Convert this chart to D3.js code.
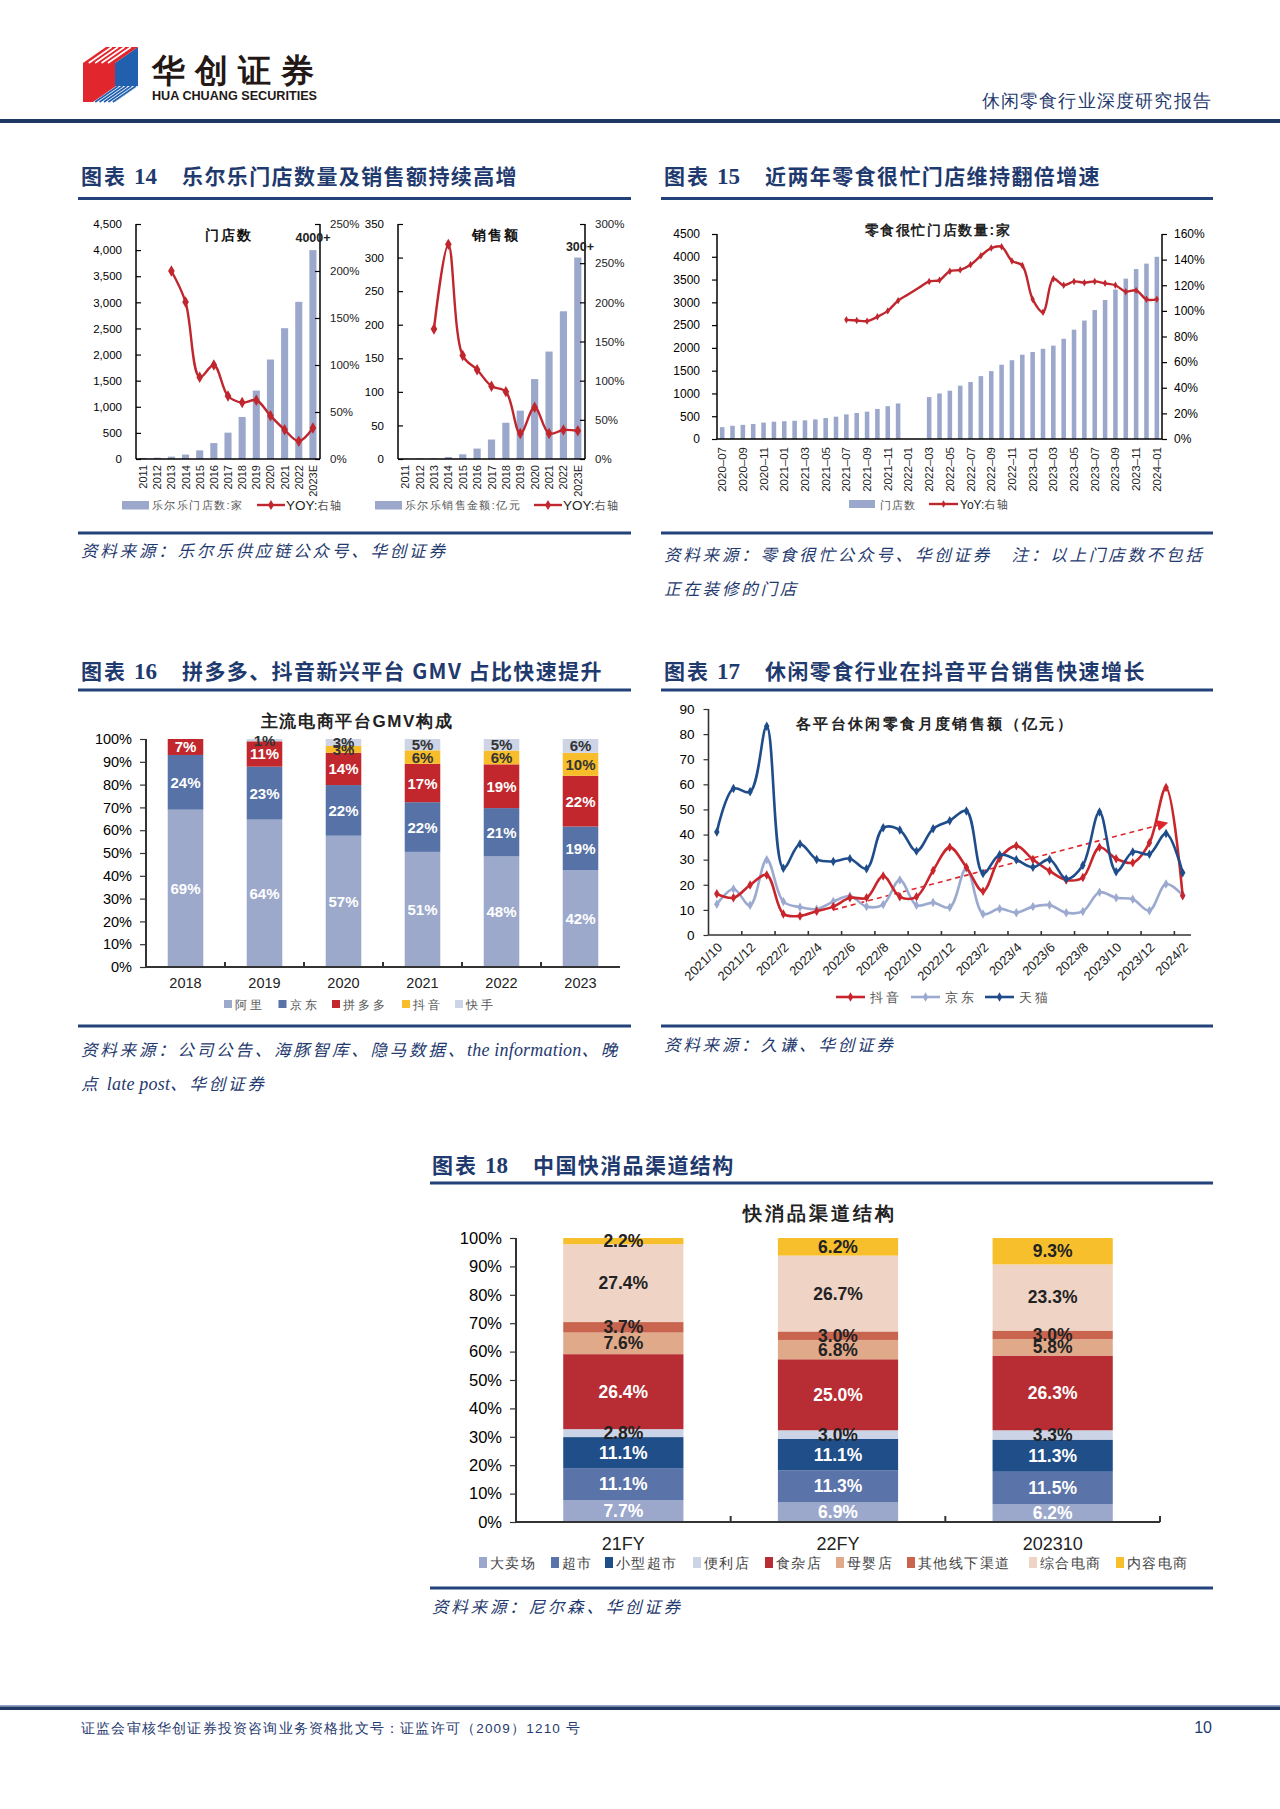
<!DOCTYPE html>
<html><head><meta charset="utf-8">
<script src="https://cdn.jsdelivr.net/npm/d3@7"></script>
<style>
body{margin:0;background:#fff;}
svg{display:block;}
text{font-family:"Liberation Sans",Arial,sans-serif;}
</style></head><body>
<svg id="page" width="1280" height="1809"></svg>
<script>
// ---------------- DATA ----------------
// Chart 14
const lelYears = ["2011","2012","2013","2014","2015","2016","2017","2018","2019","2020","2021","2022","2023E"];
const lelStores = [20,25,45,85,165,305,505,805,1310,1905,2505,3010,4000];
const lelStoresYoY = [null,null,2.00,1.67,0.87,1.00,0.67,0.60,0.625,0.46,0.31,0.19,0.33];
const lelSales = [0.5,1,1,3,7,15.5,29,54,72,119,160,220,300];
const lelSalesYoY = [null,null,1.66,2.74,1.32,1.14,0.93,0.86,0.325,0.66,0.325,0.37,0.36];
// Chart 15
const zsMonths = ["2020-07","2020-08","2020-09","2020-10","2020-11","2020-12",
 "2021-01","2021-02","2021-03","2021-04","2021-05","2021-06","2021-07","2021-08","2021-09","2021-10","2021-11","2021-12",
 "2022-01","2022-02","2022-03","2022-04","2022-05","2022-06","2022-07","2022-08","2022-09","2022-10","2022-11","2022-12",
 "2023-01","2023-02","2023-03","2023-04","2023-05","2023-06","2023-07","2023-08","2023-09","2023-10","2023-11","2023-12",
 "2024-01"];
const zsStores = [260,290,310,330,360,380,
 390,400,410,430,460,490,540,570,600,660,720,780,
 null,null,920,1000,1060,1170,1250,1380,1490,1630,1730,1850,
 1910,1980,2050,2200,2400,2600,2830,3050,3280,3520,3730,3850,
 4000];
const zsYoY = [null,null,null,null,null,null,
 null,null,null,null,null,null,0.93,0.925,0.92,0.954,1.00,1.08,
 1.13,1.18,1.23,1.24,1.31,1.32,1.36,1.43,1.49,1.50,1.39,1.355,
 1.09,0.99,1.25,1.20,1.23,1.22,1.23,1.215,1.20,1.15,1.16,1.09,
 1.09];
// Chart 16
const gmvYears = ["2018","2019","2020","2021","2022","2023"];
const gmvAli = [69,64,57,51,48,42];
const gmvJD = [24,23,22,22,21,19];
const gmvPDD = [7,11,14,17,19,22];
const gmvDouyin = [0,0,3,6,6,10];
const gmvKuaishou = [0,1,3,5,5,6];
const gmvNames = ["阿里","京东","拼多多","抖音","快手"];
// Chart 17
const snackMonths = ["2021/10","2021/11","2021/12","2022/1","2022/2","2022/3","2022/4","2022/5","2022/6","2022/7","2022/8","2022/9","2022/10","2022/11","2022/12",
 "2023/1","2023/2","2023/3","2023/4","2023/5","2023/6","2023/7","2023/8","2023/9","2023/10","2023/11","2023/12","2024/1","2024/2"];
const snackDouyin = [16.4,14.8,19.9,23.9,8.4,7.6,9.5,11.3,14.8,14.8,23.5,15.2,15.2,25.7,34.9,27,17.4,30.6,35.5,30.1,25.5,21.9,22.9,34.9,30.4,28.8,36.7,58.7,15.6];
const snackJD = [12.2,18.3,11.8,30,13.3,11.1,10.3,13.3,15.5,11.3,12.1,21.9,11.8,12.9,11,26.6,8.4,10.5,8.9,11.3,11.9,8.9,9.4,17,14.8,14.2,9.7,20.3,15.9];
const snackTmall = [41,58.3,57,83.1,26.6,36.2,30.1,29.3,30.4,26.4,42.7,41.8,33.4,42.3,45.5,49.4,24.5,32,30,27,30.1,22.3,27.8,49,25.2,33.1,32.2,40.4,24.8];
const snackTrend = [["2022/5",10],["2024/1",44.5]];
// Chart 18
const fmcgPeriods = ["21FY","22FY","202310"];
const chHypermarket = [7.7,6.9,6.2];
const chSupermarket = [11.1,11.3,11.5];
const chMiniMarket = [11.1,11.1,11.3];
const chConvenience = [2.8,3.0,3.3];
const chGrocery = [26.4,25.0,26.3];
const chMaternity = [7.6,6.8,5.8];
const chOtherOffline = [3.7,3.0,3.0];
const chGeneralEcom = [27.4,26.7,23.3];
const chContentEcom = [2.2,6.2,9.3];
const channelNames = ["大卖场","超市","小型超市","便利店","食杂店","母婴店","其他线下渠道","综合电商","内容电商"];

// ---------------- STYLE ----------------
const CJK = '"Noto Sans CJK SC","Noto Sans CJK JP",sans-serif';
const NARROW = '"Liberation Sans Narrow","Arial Narrow","Liberation Sans",sans-serif';
const NAVY = "#1F3A6E";
const BAR = "#9BA8CC";
const RED = "#C0262D";
const svg = d3.select("#page");

// ---------------- HEADER / FOOTER ----------------
(function header(){
  const g = svg.append("g");
  g.append("polygon").attr("points","83,63 115,63 115,102 83,102").attr("fill","#E1262D");
  g.append("polygon").attr("points","115,63 138,47 138,86 115,102").attr("fill","#2160AE");
  g.append("polygon").attr("points","83,63 115,63 138,47 106,47").attr("fill","#E1262D");
  [0.18,0.38,0.58,0.78].forEach(s=>{
    g.append("line").attr("x1",83+32*s).attr("y1",63).attr("x2",106+32*s).attr("y2",47).attr("stroke","#fff").attr("stroke-width",1.6);
  });
  g.append("polygon").attr("points","93,102 115,102 138,86 116,86").attr("fill","#fff");
  [0.1,0.3,0.5,0.7,0.9].forEach(s=>{
    g.append("line").attr("x1",93+22*s).attr("y1",102).attr("x2",116+22*s).attr("y2",86).attr("stroke","#2160AE").attr("stroke-width",1.6);
  });
  g.append("text").attr("x",152).attr("y",82).attr("font-family",CJK).attr("font-weight",900)
    .attr("font-size",33).attr("letter-spacing",10).attr("fill","#231815").text("华创证券");
  g.append("text").attr("x",152).attr("y",100).attr("font-weight","bold").attr("font-size",12.5)
    .attr("textLength",165).attr("lengthAdjust","spacingAndGlyphs").attr("fill","#231815").text("HUA CHUANG SECURITIES");
  g.append("text").attr("x",1212).attr("y",107).attr("text-anchor","end").attr("font-family",CJK)
    .attr("font-size",18).attr("letter-spacing",1.2).attr("fill",NAVY).text("休闲零食行业深度研究报告");
  g.append("rect").attr("x",0).attr("y",119).attr("width",1280).attr("height",4).attr("fill","#203864");
  g.append("rect").attr("x",0).attr("y",1705).attr("width",1280).attr("height",1.5).attr("fill","#8EA2C6");
  g.append("rect").attr("x",0).attr("y",1706.5).attr("width",1280).attr("height",3.5).attr("fill","#203864");
  g.append("text").attr("x",81).attr("y",1733).attr("font-family",CJK).attr("font-size",13.5).attr("letter-spacing",1.2)
    .attr("fill",NAVY).text("证监会审核华创证券投资咨询业务资格批文号：证监许可（2009）1210 号");
  g.append("text").attr("x",1212).attr("y",1733).attr("text-anchor","end").attr("font-family","Liberation Serif")
    .attr("font-size",16).attr("fill",NAVY).text("10");
})();

function section(x, y, num, title, lx1, lx2, ly, srcLines, sly, srcY){
  const t = svg.append("text").attr("x",x).attr("y",y).attr("fill",NAVY);
  t.append("tspan").attr("font-family",CJK).attr("font-weight",700).attr("font-size",21).attr("letter-spacing",2).text("图表");
  t.append("tspan").attr("x",x+53).attr("font-family","Liberation Serif").attr("font-weight","bold").attr("font-size",23).text(num);
  t.append("tspan").attr("x",x+101).attr("font-family",CJK).attr("font-weight",700).attr("font-size",21).attr("letter-spacing",1.4).text(title);
  svg.append("rect").attr("x",lx1).attr("y",ly-1.5).attr("width",lx2-lx1).attr("height",3).attr("fill","#23427A");
  svg.append("rect").attr("x",lx1).attr("y",sly-1.5).attr("width",lx2-lx1).attr("height",3).attr("fill","#23427A");
  srcLines.forEach((ln,i)=>{
    const st = svg.append("text").attr("x",x).attr("y",srcY+i*34).attr("fill",NAVY).attr("xml:space","preserve");
    ln.split(/([A-Za-z][A-Za-z ]*[A-Za-z])/).forEach(part=>{
      if(!part) return;
      const latin = /^[A-Za-z]/.test(part);
      st.append("tspan").attr("font-family",latin?"Liberation Serif":CJK).attr("font-style","italic")
        .attr("font-size",latin?18:16.5).attr("letter-spacing",latin?0.2:2.8).text(part);
    });
  });
}
section(81,184,"14","乐尔乐门店数量及销售额持续高增",78,631,198.5,["资料来源：乐尔乐供应链公众号、华创证券"],533,557);
section(664,184,"15","近两年零食很忙门店维持翻倍增速",661,1213,198.5,["资料来源：零食很忙公众号、华创证券   注：以上门店数不包括","正在装修的门店"],533,561);
section(81,679,"16","拼多多、抖音新兴平台 GMV 占比快速提升",78,631,690,["资料来源：公司公告、海豚智库、隐马数据、the information、晚","点 late post、华创证券"],1026,1056);
section(664,679,"17","休闲零食行业在抖音平台销售快速增长",661,1213,690,["资料来源：久谦、华创证券"],1026,1051);
section(432,1173,"18","中国快消品渠道结构",430,1213,1183,["资料来源：尼尔森、华创证券"],1588,1613);

function diamond(g, x, y, size, color){
  g.append("path").attr("d",d3.symbol(d3.symbolDiamond,size)()).attr("transform",`translate(${x},${y})`).attr("fill",color);
}
function styleAxis(sel, fs, color){
  sel.selectAll("path.domain").remove();
  sel.selectAll("line").attr("stroke",color||"#000").attr("stroke-width",1.2);
  sel.selectAll("text").attr("font-size",fs).attr("fill","#000");
}

// ---------------- CHART 14 ----------------
function lelChart(o){
  const g = svg.append("g");
  const yB = 459, yT = 224;
  const x = d3.scaleBand().domain(lelYears).range([o.x0,o.x1]).paddingInner(0.5).paddingOuter(0.25);
  const yL = d3.scaleLinear().domain([0,o.lMax]).range([yB,yT]);
  const yR = d3.scaleLinear().domain([0,o.rMax]).range([yB,yT]);
  g.selectAll("rect.b").data(o.bars).join("rect").attr("class","b")
    .attr("x",(d,i)=>x(lelYears[i])).attr("y",d=>yL(d)).attr("width",x.bandwidth())
    .attr("height",d=>yB-yL(d)).attr("fill",BAR);
  const aL = g.append("g").attr("transform",`translate(${o.x0},0)`)
    .call(d3.axisLeft(yL).tickValues(d3.range(0,o.lMax+0.1,o.lStep)).tickSize(-5).tickPadding(14).tickFormat(o.lFmt));
  styleAxis(aL,11.5);
  const aR = g.append("g").attr("transform",`translate(${o.x1},0)`)
    .call(d3.axisRight(yR).tickValues(d3.range(0,o.rMax+0.001,0.5)).tickSize(-5).tickPadding(10).tickFormat(d3.format(".0%")));
  styleAxis(aR,11.5);
  aR.selectAll("text").attr("fill","#222");
  g.append("line").attr("x1",o.x0).attr("x2",o.x0).attr("y1",yT).attr("y2",yB).attr("stroke","#000").attr("stroke-width",1.5);
  g.append("line").attr("x1",o.x1).attr("x2",o.x1).attr("y1",yT).attr("y2",yB).attr("stroke","#000").attr("stroke-width",1.5);
  g.append("line").attr("x1",o.x0).attr("x2",o.x1).attr("y1",yB).attr("y2",yB).attr("stroke","#000").attr("stroke-width",1.5);
  lelYears.forEach(yr=>{
    g.append("text").attr("transform",`translate(${x(yr)+x.bandwidth()/2+4},465) rotate(-90)`)
      .attr("text-anchor","end").attr("font-size",11).attr("fill","#222").text(yr);
  });
  const pts = o.yoy.map((v,i)=>({v,i})).filter(d=>d.v!=null);
  const line = d3.line().x(d=>x(lelYears[d.i])+x.bandwidth()/2).y(d=>yR(d.v)).curve(d3.curveCatmullRom.alpha(0.5));
  g.append("path").attr("d",line(pts)).attr("fill","none").attr("stroke",RED).attr("stroke-width",2.4);
  pts.forEach(d=>diamond(g,x(lelYears[d.i])+x.bandwidth()/2,yR(d.v),38,RED));
  g.append("text").attr("x",o.tx).attr("y",240).attr("text-anchor","middle").attr("font-family",CJK)
    .attr("font-weight",700).attr("font-size",14).attr("letter-spacing",2).attr("fill","#111").text(o.title);
  g.append("text").attr("x",o.ax).attr("y",o.ay).attr("text-anchor","middle").attr("font-weight","bold")
    .attr("font-size",12.5).attr("fill","#222").text(o.annot);
  g.append("rect").attr("x",o.lg).attr("y",501).attr("width",27).attr("height",8.5).attr("fill",BAR);
  g.append("text").attr("x",o.lg+30).attr("y",509).attr("font-family",CJK).attr("font-size",11).attr("letter-spacing",1.4)
    .attr("fill","#555").text(o.legend);
  g.append("line").attr("x1",o.ll).attr("x2",o.ll+28).attr("y1",505).attr("y2",505).attr("stroke",RED).attr("stroke-width",2.4);
  diamond(g,o.ll+14,505,30,RED);
  const t = g.append("text").attr("x",o.ll+29).attr("y",510).attr("fill","#222");
  t.append("tspan").attr("font-size",13.5).text("YOY:");
  t.append("tspan").attr("font-family",CJK).attr("font-size",11).attr("letter-spacing",1.5).attr("fill","#555").text("右轴");
}
lelChart({x0:136,x1:320,bars:lelStores,yoy:lelStoresYoY,lMax:4500,lStep:500,lFmt:d3.format(","),rMax:2.5,
  title:"门店数",tx:229,annot:"4000+",ax:313,ay:242,legend:"乐尔乐门店数:家",lg:122,ll:257});
lelChart({x0:398,x1:585,bars:lelSales,yoy:lelSalesYoY,lMax:350,lStep:50,lFmt:d3.format("d"),rMax:3,
  title:"销售额",tx:496,annot:"300+",ax:580,ay:251,legend:"乐尔乐销售金额:亿元",lg:375,ll:534});

// ---------------- CHART 15 ----------------
(function(){
  const g = svg.append("g");
  const x0=717,x1=1162,yB=439,yT=234;
  const x = d3.scaleBand().domain(zsMonths).range([x0,x1]).paddingInner(0.56).paddingOuter(0.28);
  const yL = d3.scaleLinear().domain([0,4500]).range([yB,yT]);
  const yR = d3.scaleLinear().domain([0,1.6]).range([yB,yT]);
  zsStores.forEach((v,i)=>{ if(v==null) return;
    g.append("rect").attr("x",x(zsMonths[i])).attr("y",yL(v)).attr("width",x.bandwidth()).attr("height",yB-yL(v)).attr("fill",BAR);
  });
  const aL = g.append("g").attr("transform",`translate(${x0},0)`)
    .call(d3.axisLeft(yL).tickValues(d3.range(0,4501,500)).tickSize(5).tickPadding(12).tickFormat(d3.format("d")));
  styleAxis(aL,12);
  const aR = g.append("g").attr("transform",`translate(${x1},0)`)
    .call(d3.axisRight(yR).tickValues(d3.range(0,1.601,0.2)).tickSize(5).tickPadding(7).tickFormat(d3.format(".0%")));
  styleAxis(aR,12);
  [[x0,x0,yT,yB],[x1,x1,yT,yB],[x0,x1,yB,yB]].forEach(a=>g.append("line").attr("x1",a[0]).attr("x2",a[1]).attr("y1",a[2]).attr("y2",a[3]).attr("stroke","#000").attr("stroke-width",1.5));
  zsMonths.forEach((m,i)=>{ if(i%2) return;
    g.append("text").attr("transform",`translate(${x(m)+x.bandwidth()/2+4},447) rotate(-90)`)
      .attr("text-anchor","end").attr("font-size",11.5).attr("fill","#222").text(m.replace("-","–"));
  });
  const pts = zsYoY.map((v,i)=>({v,i})).filter(d=>d.v!=null);
  const cx = i=>x(zsMonths[i])+x.bandwidth()/2;
  g.append("path").attr("d",d3.line().x(d=>cx(d.i)).y(d=>yR(d.v)).curve(d3.curveCatmullRom.alpha(0.5))(pts))
    .attr("fill","none").attr("stroke",RED).attr("stroke-width",2.4);
  pts.forEach(d=>{ if(d.i===18||d.i===19) return; diamond(g,cx(d.i),yR(d.v),16,RED); });
  g.append("text").attr("x",938).attr("y",235).attr("text-anchor","middle").attr("font-family",CJK).attr("font-weight",700)
    .attr("font-size",14).attr("letter-spacing",1.6).attr("fill","#222").text("零食很忙门店数量:家");
  g.append("rect").attr("x",849).attr("y",500).attr("width",26).attr("height",8).attr("fill",BAR);
  g.append("text").attr("x",880).attr("y",508.5).attr("font-family",CJK).attr("font-size",11).attr("letter-spacing",1).attr("fill","#555").text("门店数");
  g.append("line").attr("x1",929).attr("x2",958).attr("y1",504).attr("y2",504).attr("stroke",RED).attr("stroke-width",2.4);
  diamond(g,943.5,504,16,RED);
  const t = g.append("text").attr("x",960).attr("y",508.5).attr("fill","#222");
  t.append("tspan").attr("font-size",12).text("YoY:");
  t.append("tspan").attr("font-family",CJK).attr("font-size",11).attr("letter-spacing",1.5).attr("fill","#555").text("右轴");
})();

// ---------------- CHART 16 ----------------
(function(){
  const g = svg.append("g");
  const x0=146,x1=620,yB=967,yT=739;
  const series = [gmvAli,gmvJD,gmvPDD,gmvDouyin,gmvKuaishou];
  const colors = ["#9CA9CB","#5672A6","#C1272D","#F7BD2B","#CDD4E6"];
  const labColors = ["#fff","#fff","#fff","#333","#333"];
  const rows = gmvYears.map((yr,i)=>{ const r={year:yr}; gmvNames.forEach((n,k)=>r[n]=series[k][i]); return r; });
  const stack = d3.stack().keys(gmvNames).offset(d3.stackOffsetExpand)(rows);
  const x = d3.scaleBand().domain(gmvYears).range([x0,x1]).paddingInner(0.55).paddingOuter(0.275);
  const y = d3.scaleLinear().domain([0,1]).range([yB,yT]);
  stack.forEach((layer,k)=>{
    layer.forEach((d,i)=>{
      const v = series[k][i]; if(!v) return;
      g.append("rect").attr("x",x(gmvYears[i])).attr("y",y(d[1])).attr("width",x.bandwidth()).attr("height",y(d[0])-y(d[1])).attr("fill",colors[k]);
    });
  });
  stack.forEach((layer,k)=>{
    layer.forEach((d,i)=>{
      const v = series[k][i]; if(!v) return;
      g.append("text").attr("x",x(gmvYears[i])+x.bandwidth()/2).attr("y",(y(d[0])+y(d[1]))/2+5.5)
        .attr("text-anchor","middle").attr("font-weight","bold").attr("font-size",15).attr("fill",labColors[k]).text(v+"%");
    });
  });
  const aY = g.append("g").attr("transform",`translate(${x0},0)`)
    .call(d3.axisLeft(y).tickValues(d3.range(0,1.001,0.1)).tickSize(6).tickPadding(8).tickFormat(d3.format(".0%")));
  styleAxis(aY,14.5,"#333");
  g.append("line").attr("x1",x0).attr("x2",x0).attr("y1",yT).attr("y2",yB).attr("stroke","#333").attr("stroke-width",2);
  g.append("line").attr("x1",x0).attr("x2",x1).attr("y1",yB).attr("y2",yB).attr("stroke","#333").attr("stroke-width",2);
  for(let k=1;k<gmvYears.length;k++){
    const bx = x0 + k*x.step();
    g.append("line").attr("x1",bx).attr("x2",bx).attr("y1",yB).attr("y2",yB-5).attr("stroke","#333").attr("stroke-width",2);
  }
  gmvYears.forEach(yr=>g.append("text").attr("x",x(yr)+x.bandwidth()/2).attr("y",988).attr("text-anchor","middle")
    .attr("font-size",14.5).attr("fill","#222").text(yr));
  g.append("text").attr("x",357).attr("y",727).attr("text-anchor","middle").attr("font-family",CJK).attr("font-weight",700)
    .attr("font-size",17).attr("letter-spacing",1.6).attr("fill","#222").text("主流电商平台GMV构成");
  const lx = [224,278.5,332,402,455];
  gmvNames.forEach((n,k)=>{
    g.append("rect").attr("x",lx[k]).attr("y",1000).attr("width",8).attr("height",8).attr("fill",colors[k]);
    g.append("text").attr("x",lx[k]+11).attr("y",1009).attr("font-family",CJK).attr("font-size",12).attr("letter-spacing",3)
      .attr("fill","#555").text(n);
  });
})();

// ---------------- CHART 17 ----------------
(function(){
  const g = svg.append("g");
  const x0=708.5,x1=1191,yB=935,yT=709;
  const x = d3.scaleBand().domain(snackMonths).range([x0,x1]);
  const y = d3.scaleLinear().domain([0,90]).range([yB,yT]);
  const cx = m=>x(m)+x.bandwidth()/2;
  const aY = g.append("g").attr("transform",`translate(${x0},0)`)
    .call(d3.axisLeft(y).tickValues(d3.range(0,91,10)).tickSize(5).tickPadding(9));
  styleAxis(aY,13.5,"#333");
  g.append("line").attr("x1",x0).attr("x2",x0).attr("y1",yT).attr("y2",yB).attr("stroke","#333").attr("stroke-width",1.6);
  g.append("line").attr("x1",x0).attr("x2",x1).attr("y1",yB).attr("y2",yB).attr("stroke","#333").attr("stroke-width",1.6);
  for(let k=2;k<snackMonths.length;k+=2){
    const bx = x0 + k*x.step();
    g.append("line").attr("x1",bx).attr("x2",bx).attr("y1",yB).attr("y2",yB-4).attr("stroke","#333").attr("stroke-width",1.6);
  }
  snackMonths.forEach((m,i)=>{ if(i%2) return;
    g.append("text").attr("transform",`translate(${cx(m)+3},945) rotate(-45)`).attr("dy","0.35em")
      .attr("text-anchor","end").attr("font-size",13).attr("fill","#222").text(m);
  });
  const defs = svg.append("defs");
  defs.append("marker").attr("id","arrowRed").attr("viewBox","0 0 10 10").attr("refX",8).attr("refY",5)
    .attr("markerWidth",7).attr("markerHeight",7).attr("orient","auto")
    .append("path").attr("d","M0,0 L10,5 L0,10 z").attr("fill","#E0262D");
  g.append("line").attr("x1",cx(snackTrend[0][0])).attr("y1",y(snackTrend[0][1]))
    .attr("x2",cx(snackTrend[1][0])).attr("y2",y(snackTrend[1][1]))
    .attr("stroke","#E0262D").attr("stroke-width",1.6).attr("stroke-dasharray","5,4").attr("marker-end","url(#arrowRed)");
  const sets = [[snackJD,"#9CAAD0"],[snackDouyin,"#C8262C"],[snackTmall,"#1F4D8B"]];
  const line = d3.line().x((d,i)=>cx(snackMonths[i])).y(d=>y(d)).curve(d3.curveCatmullRom.alpha(0.5));
  sets.forEach(([data,col])=>{
    g.append("path").attr("d",line(data)).attr("fill","none").attr("stroke",col).attr("stroke-width",2.6);
    data.forEach((v,i)=>diamond(g,cx(snackMonths[i]),y(v),26,col));
  });
  g.append("text").attr("x",935).attr("y",729).attr("text-anchor","middle").attr("font-family",CJK).attr("font-weight",700)
    .attr("font-size",15).attr("letter-spacing",2.4).attr("fill","#222").text("各平台休闲零食月度销售额（亿元）");
  const lg = [[836,"抖音","#C8262C"],[911,"京东","#9CAAD0"],[985,"天猫","#1F4D8B"]];
  lg.forEach(([lx,n,c])=>{
    g.append("line").attr("x1",lx).attr("x2",lx+29).attr("y1",997).attr("y2",997).attr("stroke",c).attr("stroke-width",2.6);
    diamond(g,lx+14.5,997,26,c);
    g.append("text").attr("x",lx+34).attr("y",1001.5).attr("font-family",CJK).attr("font-size",12.5).attr("letter-spacing",2.5)
      .attr("fill","#555").text(n);
  });
})();

// ---------------- CHART 18 ----------------
(function(){
  const g = svg.append("g");
  const x0=516,x1=1160,yB=1522,yT=1238;
  const series = [chHypermarket,chSupermarket,chMiniMarket,chConvenience,chGrocery,chMaternity,chOtherOffline,chGeneralEcom,chContentEcom];
  const colors = ["#9BA8CB","#5A73A8","#1F4E89","#CBD3E6","#B82C33","#E0A98A","#C9654F","#EFD4C6","#F7BF2C"];
  const labColors = ["#fff","#fff","#fff","#222","#fff","#222","#222","#222","#222"];
  const rows = fmcgPeriods.map((p,i)=>{ const r={p}; channelNames.forEach((n,k)=>r[n]=series[k][i]); return r; });
  const stack = d3.stack().keys(channelNames)(rows);
  const x = d3.scaleBand().domain(fmcgPeriods).range([x0,x1]).paddingInner(0.44).paddingOuter(0.22);
  const y = d3.scaleLinear().domain([0,100]).range([yB,yT]);
  stack.forEach((layer,k)=>layer.forEach((d,i)=>{
    g.append("rect").attr("x",x(fmcgPeriods[i])).attr("y",y(d[1])).attr("width",x.bandwidth()).attr("height",y(d[0])-y(d[1]))
      .attr("fill",colors[k]);
  }));
  stack.forEach((layer,k)=>layer.forEach((d,i)=>{
    g.append("text").attr("x",x(fmcgPeriods[i])+x.bandwidth()/2).attr("y",(y(d[0])+y(d[1]))/2+6)
      .attr("text-anchor","middle").attr("font-family",NARROW).attr("font-weight","bold").attr("font-size",17.5)
      .attr("fill",labColors[k]).text(series[k][i].toFixed(1)+"%");
  }));
  const aY = g.append("g").attr("transform",`translate(${x0},0)`)
    .call(d3.axisLeft(y).tickValues(d3.range(0,101,10)).tickSize(6).tickPadding(8).tickFormat(d=>d+"%"));
  styleAxis(aY,16.5,"#333");
  aY.selectAll("text").attr("font-family",NARROW);
  g.append("line").attr("x1",x0).attr("x2",x0).attr("y1",yT).attr("y2",yB).attr("stroke","#333").attr("stroke-width",2);
  g.append("line").attr("x1",x0).attr("x2",x1).attr("y1",yB).attr("y2",yB).attr("stroke","#333").attr("stroke-width",2);
  for(let k=1;k<=fmcgPeriods.length;k++){
    const bx = x0 + k*x.step();
    g.append("line").attr("x1",bx).attr("x2",bx).attr("y1",yB).attr("y2",yB-6).attr("stroke","#333").attr("stroke-width",2);
  }
  fmcgPeriods.forEach(p=>g.append("text").attr("x",x(p)+x.bandwidth()/2).attr("y",1550).attr("text-anchor","middle")
    .attr("font-family",NARROW).attr("font-size",18).attr("fill","#222").text(p));
  g.append("text").attr("x",820).attr("y",1220).attr("text-anchor","middle").attr("font-family",CJK).attr("font-weight",700)
    .attr("font-size",19).attr("letter-spacing",3).attr("fill","#222").text("快消品渠道结构");
  const lx = [479,551,605,693,765,836,907,1029,1116];
  channelNames.forEach((n,k)=>{
    g.append("rect").attr("x",lx[k]).attr("y",1557).attr("width",8).attr("height",11).attr("fill",colors[k]);
    g.append("text").attr("x",lx[k]+11).attr("y",1568).attr("font-family",CJK).attr("font-size",14).attr("letter-spacing",1.4)
      .attr("fill","#444").text(n);
  });
})();
</script>
</body></html>
